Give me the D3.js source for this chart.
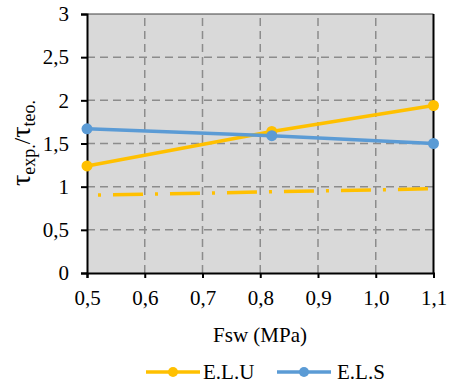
<!DOCTYPE html>
<html><head><meta charset="utf-8">
<script src="https://cdn.jsdelivr.net/npm/d3@7"></script>
</head><body style="margin:0">
<svg id="c" width="451" height="389" font-family="Liberation Serif"></svg>
<script>
const xTicks = [0.5,0.6,0.7,0.8,0.9,1.0,1.1];
const xTickLabels = ["0,5","0,6","0,7","0,8","0,9","1,0","1,1"];
const yTicks = [0,0.5,1,1.5,2,2.5,3];
const yTickLabels = ["0","0,5","1","1,5","2","2,5","3"];
const fsw = [0.5,0.82,1.1];
const elu = [1.24,1.64,1.94];
const els = [1.67,1.59,1.50];
const trendX = [0.5,1.1];
const trendY = [0.90,0.976];
const seriesNames = ["E.L.U","E.L.S"];
const colors = ["#FFC000","#5B9BD5"];
const FONT = "'Liberation Serif', 'Times New Roman', Tinos";

const svg = d3.select("#c");
const x = d3.scaleLinear().domain([0.5,1.1]).range([87,433.5]);
const y = d3.scaleLinear().domain([0,3]).range([273,14]);

svg.append("rect").attr("x",x(0.5)).attr("y",y(3)).attr("width",x(1.1)-x(0.5)).attr("height",y(0)-y(3)).attr("fill","#d9d9d9");

svg.append("g").selectAll("line").data(yTicks.filter(d=>d>0&&d<3)).join("line")
  .attr("x1",x(0.5)).attr("x2",x(1.1)).attr("y1",d=>y(d)).attr("y2",d=>y(d))
  .attr("stroke","#8c8c8c").attr("stroke-width",1.5).attr("stroke-dasharray","8,5");
svg.append("g").selectAll("line").data(xTicks.slice(1,-1)).join("line")
  .attr("y1",y(0)).attr("y2",y(3)).attr("x1",d=>x(d)).attr("x2",d=>x(d))
  .attr("stroke","#8c8c8c").attr("stroke-width",1.5).attr("stroke-dasharray","8,5");

svg.append("line").attr("x1",x(0.5)).attr("x2",x(1.1)).attr("y1",y(3)).attr("y2",y(3)).attr("stroke","#404040").attr("stroke-width",1);
svg.append("line").attr("x1",x(1.1)).attr("x2",x(1.1)).attr("y1",y(3)).attr("y2",y(0)).attr("stroke","#000").attr("stroke-width",2);

const xAxis = d3.axisBottom(x).tickValues(xTicks).tickFormat((d,i)=>xTickLabels[i]).tickSize(5).tickPadding(12);
const gx = svg.append("g").attr("transform",`translate(0,${y(0)})`).call(xAxis);
gx.select(".domain").attr("stroke","#000").attr("stroke-width",2);
gx.selectAll(".tick line").attr("stroke","#000").attr("stroke-width",2);
gx.selectAll("text").attr("fill","#000");

const yAxis = d3.axisLeft(y).tickValues(yTicks).tickFormat((d,i)=>yTickLabels[i]).tickSize(6).tickPadding(12);
const gy = svg.append("g").attr("transform",`translate(${x(0.5)},0)`).call(yAxis);
gy.select(".domain").attr("stroke","#000").attr("stroke-width",2);
gy.selectAll(".tick line").attr("stroke","#000").attr("stroke-width",2);
gy.selectAll("text").attr("fill","#000");

const line = d3.line().x(d=>x(d[0])).y(d=>y(d[1]));
svg.append("path").attr("d",line(d3.zip(trendX,trendY))).attr("fill","none")
  .attr("stroke",colors[0]).attr("stroke-width",3.5).attr("stroke-dasharray","30,12,3,12").attr("stroke-dashoffset",31);

[elu,els].forEach((vals,i)=>{
  const pts = d3.zip(fsw,vals);
  svg.append("path").attr("d",line(pts)).attr("fill","none").attr("stroke",colors[i]).attr("stroke-width",3.5);
  svg.append("g").selectAll("circle").data(pts).join("circle")
    .attr("cx",d=>x(d[0])).attr("cy",d=>y(d[1])).attr("r",5.5).attr("fill",colors[i]);
});

svg.append("text").attr("x",260).attr("y",342).attr("text-anchor","middle").text("Fsw (MPa)");
const yt = svg.append("text").attr("class","ytitle").attr("transform","translate(30,143) rotate(-90)").attr("text-anchor","middle");
yt.append("tspan").attr("data-fs",28).text("τ");
yt.append("tspan").attr("data-fs",18).attr("dy",5).text("exp.");
yt.append("tspan").attr("data-fs",23).attr("dy",-5).text("/");
yt.append("tspan").attr("data-fs",28).text("τ");
yt.append("tspan").attr("data-fs",18).attr("dy",5).text("teo.");

const legX = [[146,200,203],[277,331,337]];
seriesNames.forEach((n,i)=>{
  const [a,b,t] = legX[i];
  svg.append("line").attr("x1",a).attr("x2",b).attr("y1",372).attr("y2",372).attr("stroke",colors[i]).attr("stroke-width",3.5);
  svg.append("circle").attr("cx",(a+b)/2).attr("cy",372).attr("r",5).attr("fill",colors[i]);
  svg.append("text").attr("x",t).attr("y",379).text(n);
});

// fonts, forced
svg.selectAll("text").each(function(){
  this.style.setProperty("font-family", FONT, "important");
  this.style.setProperty("font-size", "21px", "important");
});
yt.selectAll("tspan").each(function(){
  this.style.setProperty("font-family", FONT, "important");
  this.style.setProperty("font-size", this.getAttribute("data-fs")+"px", "important");
});
</script></body></html>
